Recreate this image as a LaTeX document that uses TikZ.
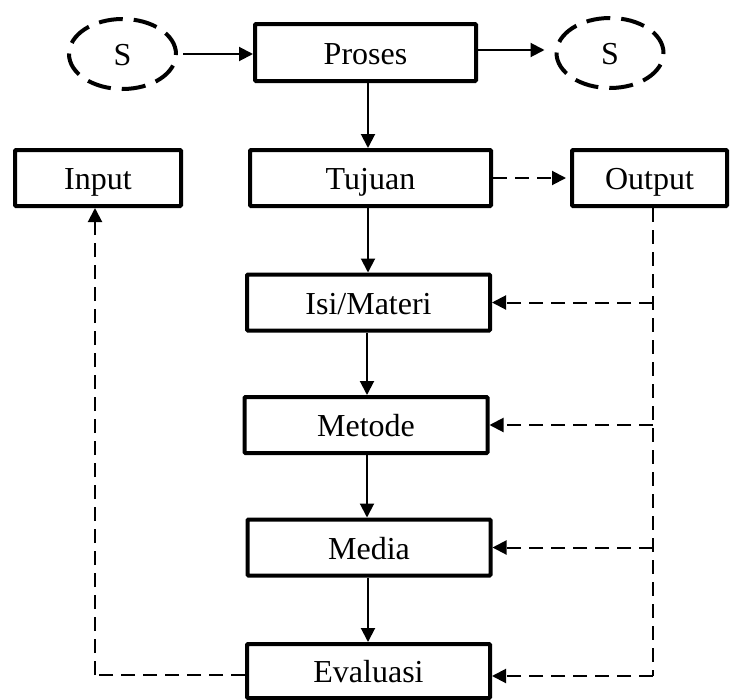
\documentclass[tikz,border=0pt]{standalone}
\usepackage{fontspec}
\setmainfont{Liberation Serif}
\usetikzlibrary{arrows.meta,shapes.geometric}
\begin{document}
\begin{tikzpicture}[x=1pt,y=-1pt,
  box/.style={draw,line width=4pt,rounded corners=1pt,inner sep=0pt,
    minimum width=243pt,minimum height=56pt,text height=24pt,text depth=1pt,
    font=\fontsize{32}{36}\selectfont},
  sell/.style={draw,ellipse,line width=4pt,dash pattern=on 24pt off 11pt,
    inner sep=0pt,minimum width=107pt,minimum height=70pt,text height=23pt,text depth=0pt,
    font=\fontsize{32}{36}\selectfont},
  sarrow/.style={line width=2pt,-{Triangle[length=14pt,width=14pt]}},
  darrow/.style={line width=2pt,dash pattern=on 14pt off 8pt,-{Triangle[length=14pt,width=14pt]}},
  dline/.style={line width=2pt,dash pattern=on 14pt off 8pt}]
\useasboundingbox (0,0) rectangle (731,699);

\node[sell] (s1) at (122.5,54) {S};
\node[sell] (s2) at (610,53) {S};
\node[box,minimum width=221pt,minimum height=57pt] (proses) at (365.5,52.5) {Proses};
\node[box,minimum width=241pt] (tujuan) at (370.5,178) {Tujuan};
\node[box,minimum width=166pt] (input) at (98,178) {Input};
\node[box,minimum width=155pt] (output) at (649.5,178) {Output};
\node[box] (isi) at (368.5,302.5) {Isi/Materi};
\node[box] (metode) at (366,425) {Metode};
\node[box] (media) at (369,547.5) {Media};
\node[box,minimum height=54pt] (eval) at (368.5,671) {Evaluasi};

\coordinate (oc) at (653,676);
\coordinate (ic) at (95,675);

\draw[sarrow,shorten <=5pt] (s1) -- (proses.west |- s1);
\draw[sarrow,shorten >=10pt] (proses.east |- 0,50) -- (s2.west |- 0,50);
\draw[sarrow] (proses.south -| 368,0) -- (tujuan.north -| 368,0);
\draw[sarrow] (tujuan.south -| 368,0) -- (isi.north -| 368,0);
\draw[sarrow] (isi.south -| 367,0) -- (metode.north -| 367,0);
\draw[sarrow] (metode.south -| 367,0) -- (media.north -| 367,0);
\draw[sarrow] (media.south -| 368,0) -- (eval.north -| 368,0);

\draw[darrow,shorten >=4pt] (tujuan) -- (output);
\draw[dline] (output.south -| oc) -- (oc);
\draw[darrow] (oc) -- (eval.east |- oc);
\draw[darrow] (isi.east -| oc) -- (isi.east);
\draw[darrow] (metode.east -| oc) -- (metode.east);
\draw[darrow] (media.east -| oc) -- (media.east);

\draw[dline] (eval.west |- ic) -- (ic);
\draw[darrow] (ic) -- (ic |- input.south);
\end{tikzpicture}
\end{document}
